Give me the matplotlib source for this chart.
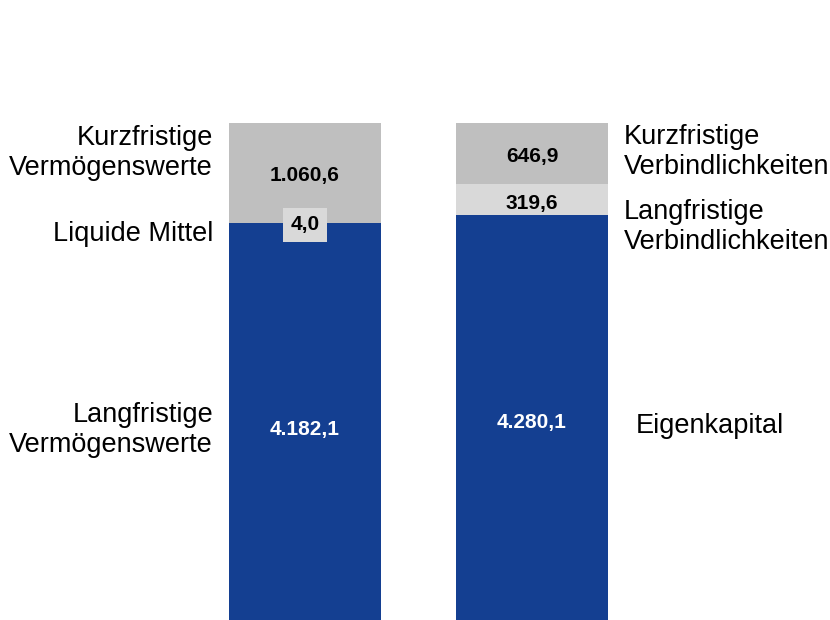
import matplotlib
matplotlib.use("Agg")
import matplotlib.pyplot as plt

plt.rcParams['font.family'] = ['Liberation Sans', 'DejaVu Sans']

# Data
bars = ["Aktiva", "Passiva"]
left_vals = [4182.1, 4.0, 1060.6]      # Langfristige VW, Liquide Mittel, Kurzfristige VW
right_vals = [4280.1, 319.6, 646.9]    # Eigenkapital, Langfr. Verb., Kurzfr. Verb.
left_labels = ["4.182,1", "4,0", "1.060,6"]
right_labels = ["4.280,1", "319,6", "646,9"]
left_names = ["Langfristige\nVermögenswerte", "Liquide Mittel", "Kurzfristige\nVermögenswerte"]
right_names = ["Eigenkapital", "Langfristige\nVerbindlichkeiten", "Kurzfristige\nVerbindlichkeiten"]

BLUE = "#143F91"
GRAY = "#BFBFBF"
LIGHT = "#D9D9D9"

fig = plt.figure(figsize=(8.3, 6.2), dpi=100)
ax = fig.add_axes([0, 0, 1, 1])
ax.set_xlim(-1.3436, 2.3128)
total = sum(left_vals)
ax.set_ylim(0, total * 620 / 497)
ax.axis('off')

w = 0.67
# Left bar
b0 = 0
ax.bar(0, left_vals[0], w, bottom=b0, color=BLUE, linewidth=0)
b1 = left_vals[0]
ax.bar(0, left_vals[1], w, bottom=b1, color=BLUE, linewidth=0)
b2 = left_vals[0] + left_vals[1]
ax.bar(0, left_vals[2], w, bottom=b2, color=GRAY, linewidth=0)

# Right bar
r0 = 0
ax.bar(1, right_vals[0], w, bottom=r0, color=BLUE, linewidth=0)
r1 = right_vals[0]
ax.bar(1, right_vals[1], w, bottom=r1, color=LIGHT, linewidth=0)
r2 = right_vals[0] + right_vals[1]
ax.bar(1, right_vals[2], w, bottom=r2, color=GRAY, linewidth=0)

vfs = 15
# value labels left
ax.text(0, left_vals[0] * 0.48, left_labels[0], ha='center', va='center',
        color='white', fontsize=vfs, fontweight='bold')
ax.text(0, b1 - 10, left_labels[1], ha='center', va='center', color='black',
        fontsize=vfs, fontweight='bold',
        bbox=dict(boxstyle='square,pad=0.35', facecolor=LIGHT, edgecolor='none'))
ax.text(0, b2 + left_vals[2] / 2 - 25, left_labels[2], ha='center', va='center',
        color='black', fontsize=vfs, fontweight='bold')

# value labels right
ax.text(1, right_vals[0] * 0.486, right_labels[0], ha='center', va='center',
        color='white', fontsize=vfs, fontweight='bold')
ax.text(1, r1 + right_vals[1] / 2 - 43, right_labels[1], ha='center', va='center',
        color='black', fontsize=vfs, fontweight='bold')
ax.text(1, r2 + right_vals[2] / 2 - 32, right_labels[2], ha='center', va='center',
        color='black', fontsize=vfs, fontweight='bold')

nfs = 19.5
ls = 1.2
xl = -0.405
# left category names
ax.text(xl, left_vals[0] * 0.48, left_names[0], ha='right', va='center',
        fontsize=nfs, linespacing=ls)
ax.text(xl, b1 - 107, left_names[1], ha='right', va='center', fontsize=nfs)
ax.text(xl, b2 + left_vals[2] * 0.705, left_names[2], ha='right', va='center',
        fontsize=nfs, linespacing=ls)

xr = 1.405
ax.text(xr + 0.05, right_vals[0] * 0.479, right_names[0], ha='left', va='center',
        fontsize=nfs)
ax.text(xr, r1 + right_vals[1] / 2 - 288, right_names[1], ha='left', va='center',
        fontsize=nfs, linespacing=ls)
ax.text(xr, r2 + right_vals[2] / 2 + 13, right_names[2], ha='left', va='center',
        fontsize=nfs, linespacing=ls)

fig.savefig("out.png", dpi=100)
